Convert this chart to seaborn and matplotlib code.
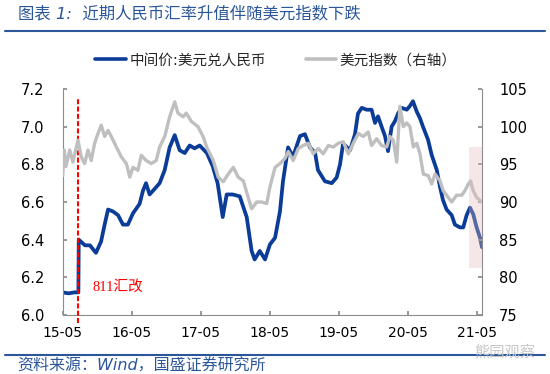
import matplotlib
matplotlib.use("Agg")
import pandas as pd
import seaborn as sns
import matplotlib.pyplot as plt
import matplotlib.dates as mdates
from matplotlib.lines import Line2D

# USD/CNY central parity (left axis)
cny_dates = [
    "2015-05-20", "2015-06-20", "2015-07-20", "2015-08-11", "2015-08-13", "2015-09-15", "2015-10-11", "2015-11-12", "2015-12-09", "2015-12-28",
    "2016-01-15", "2016-02-10", "2016-03-08", "2016-04-03", "2016-04-29", "2016-05-26", "2016-06-30", "2016-07-18", "2016-08-03", "2016-08-22",
    "2016-09-18", "2016-10-14", "2016-11-10", "2016-12-06", "2017-01-02", "2017-01-28", "2017-02-24", "2017-03-22", "2017-04-17", "2017-05-14",
    "2017-06-21", "2017-07-22", "2017-08-17", "2017-09-13", "2017-10-04", "2017-11-05", "2017-12-12", "2018-01-18", "2018-02-13", "2018-03-01",
    "2018-03-28", "2018-04-25", "2018-05-21", "2018-06-17", "2018-07-13", "2018-07-29", "2018-08-25", "2018-09-20", "2018-10-27", "2018-11-22",
    "2018-12-19", "2019-01-15", "2019-01-30", "2019-03-08", "2019-04-13", "2019-05-09", "2019-05-27", "2019-06-12", "2019-07-19", "2019-08-14",
    "2019-08-30", "2019-09-19", "2019-10-15", "2019-11-10", "2019-11-28", "2019-12-14", "2020-01-02", "2020-01-20", "2020-02-05", "2020-02-24",
    "2020-03-13", "2020-03-29", "2020-04-17", "2020-05-14", "2020-05-31", "2020-06-16", "2020-07-06", "2020-07-23", "2020-08-08", "2020-09-04",
    "2020-09-23", "2020-10-20", "2020-11-06", "2020-11-22", "2020-12-11", "2021-01-07", "2021-01-24", "2021-02-20", "2021-03-09", "2021-03-27",
    "2021-04-14", "2021-05-01", "2021-05-19", "2021-06-06", "2021-06-16",
]
cny_values = [
    6.12, 6.115, 6.12, 6.12, 6.40, 6.37, 6.37, 6.33, 6.39, 6.48,
    6.56, 6.55, 6.53, 6.48, 6.48, 6.54, 6.59, 6.66, 6.70, 6.64,
    6.67, 6.70, 6.77, 6.89, 6.955, 6.875, 6.86, 6.90, 6.885, 6.90,
    6.86, 6.79, 6.70, 6.52, 6.64, 6.64, 6.63, 6.52, 6.34, 6.295,
    6.34, 6.295, 6.375, 6.41, 6.55, 6.71, 6.89, 6.84, 6.95, 6.96,
    6.89, 6.86, 6.77, 6.71, 6.70, 6.73, 6.80, 6.91, 6.875, 6.96,
    7.07, 7.10, 7.09, 7.09, 7.02, 7.055, 7.00, 6.95, 6.87, 7.00,
    7.03, 7.07, 7.10, 7.09, 7.11, 7.135, 7.08, 7.045, 7.00, 6.93,
    6.85, 6.77, 6.68, 6.61, 6.56, 6.53, 6.48, 6.465, 6.465, 6.53,
    6.57, 6.535, 6.465, 6.41, 6.36,
]

# US dollar index (right axis)
dxy_dates = [
    "2015-05-20", "2015-05-28", "2015-06-06", "2015-06-26", "2015-07-13", "2015-08-09", "2015-08-26", "2015-09-13", "2015-10-01", "2015-10-18",
    "2015-11-05", "2015-11-23", "2015-12-10", "2015-12-28", "2016-01-15", "2016-02-01", "2016-02-28", "2016-03-25", "2016-04-21", "2016-05-09",
    "2016-05-26", "2016-06-21", "2016-07-09", "2016-08-04", "2016-08-31", "2016-09-26", "2016-10-14", "2016-11-10", "2016-12-06", "2017-01-02",
    "2017-01-19", "2017-02-15", "2017-03-04", "2017-03-31", "2017-05-05", "2017-06-01", "2017-06-20", "2017-07-25", "2017-08-20", "2017-09-16",
    "2017-10-12", "2017-11-08", "2017-12-04", "2017-12-31", "2018-01-26", "2018-02-13", "2018-03-12", "2018-04-07", "2018-05-04", "2018-05-21",
    "2018-06-17", "2018-07-13", "2018-08-09", "2018-08-26", "2018-09-21", "2018-10-18", "2018-11-13", "2018-12-10", "2019-01-05", "2019-02-01",
    "2019-02-27", "2019-03-26", "2019-04-21", "2019-05-18", "2019-06-13", "2019-07-10", "2019-08-05", "2019-09-01", "2019-09-27", "2019-10-23",
    "2019-11-10", "2019-12-07", "2020-01-02", "2020-01-29", "2020-02-15", "2020-03-04", "2020-03-22", "2020-04-08", "2020-04-26", "2020-05-14",
    "2020-05-31", "2020-06-18", "2020-07-06", "2020-07-23", "2020-08-10", "2020-09-05", "2020-09-23", "2020-10-11", "2020-11-06", "2020-11-23",
    "2020-12-20", "2021-01-07", "2021-02-02", "2021-03-01", "2021-03-18", "2021-04-05", "2021-04-17", "2021-05-01", "2021-05-19", "2021-06-15",
]
dxy_values = [
    93.5, 96.9, 94.7, 96.9, 95.3, 98.2, 96.0, 95.1, 96.9, 95.5,
    97.8, 99.1, 100.2, 98.7, 99.5, 98.7, 97.3, 96.0, 95.1, 93.3,
    94.6, 94.2, 96.2, 95.5, 95.1, 95.5, 97.3, 98.7, 101.3, 103.3,
    101.8, 101.3, 101.8, 100.7, 100.0, 98.7, 97.3, 95.5, 93.3, 92.7,
    93.7, 94.6, 93.3, 92.8, 90.6, 89.1, 90.0, 90.0, 89.8, 92.0,
    94.6, 95.1, 95.8, 96.7, 95.5, 97.1, 97.5, 97.8, 96.4, 97.1,
    96.4, 97.5, 97.3, 97.8, 98.0, 96.4, 97.8, 99.1, 98.7, 99.3,
    97.5, 98.4, 97.5, 97.3, 98.7, 98.2, 95.3, 102.7, 100.0, 100.5,
    100.0, 97.3, 97.8, 96.4, 93.7, 93.5, 92.4, 93.7, 92.8, 91.5,
    90.6, 90.0, 90.9, 90.9, 91.5, 92.4, 92.8, 91.5, 90.6, 90.0,
]

year_ticks = ["2015-05-20", "2016-05-20", "2017-05-20", "2018-05-20",
              "2019-05-20", "2020-05-20", "2021-05-20"]
left_ticks = [6.0, 6.2, 6.4, 6.6, 6.8, 7.0, 7.2]
right_ticks = [75, 80, 85, 90, 95, 100, 105]
reform_date = "2015-08-11"

BLUE = "#0B3C97"
GRAY = "#BFBFBF"
HEAD = "#2B579A"
SPINE = "#8C8C8C"

sns.set_theme(style="white")
plt.rcParams["font.family"] = ["DejaVu Sans", "Noto Sans CJK SC"]

cny = pd.DataFrame({"date": pd.to_datetime(cny_dates), "value": cny_values})
dxy = pd.DataFrame({"date": pd.to_datetime(dxy_dates), "value": dxy_values})

fig = plt.figure(figsize=(5.5, 3.74), dpi=100)
ax1 = fig.add_axes([62.7 / 550, 1 - 315 / 374, (482.3 - 62.7) / 550, (315 - 89) / 374])
ax2 = ax1.twinx()

sns.lineplot(data=cny, x="date", y="value", ax=ax1, color=BLUE, linewidth=2.7)
sns.lineplot(data=dxy, x="date", y="value", ax=ax2, color=GRAY, linewidth=2.4)

ax1.set_xlim(pd.Timestamp("2015-05-20"), pd.Timestamp("2021-06-18"))
ax1.set_ylim(6.0, 7.2)
ax2.set_ylim(75, 105)
ax1.set_xticks(pd.to_datetime(year_ticks))
ax1.xaxis.set_major_formatter(mdates.DateFormatter("%y-%m"))
ax1.set_yticks(left_ticks)
ax1.set_yticklabels([f"{v:.1f}" for v in left_ticks])
ax2.set_yticks(right_ticks)
for ax in (ax1, ax2):
    ax.set_xlabel("")
    ax.set_ylabel("")
    ax.spines["top"].set_visible(False)
    for s in ax.spines.values():
        s.set_color(SPINE)
        s.set_linewidth(0.8)
ax1.spines["right"].set_visible(False)
ax2.spines["left"].set_visible(False)
ax2.spines["bottom"].set_visible(False)

ax1.tick_params(axis="x", bottom=True, direction="in", length=3, color=SPINE,
                labelsize=10, pad=8, labelcolor="black")
ax1.tick_params(axis="y", left=True, direction="in", length=3, color=SPINE,
                labelsize=10.5, pad=13, labelcolor="black")
ax2.tick_params(axis="y", right=True, direction="in", length=3, color=SPINE,
                labelsize=10.5, pad=12, labelcolor="black")

# 811 reform marker
ax1.vlines(pd.Timestamp(reform_date), 5.96, 7.15, colors="#FF0000",
           linestyles=(0, (2.4, 1.1)), linewidth=1.5, clip_on=False, zorder=4)
ax1.text(pd.Timestamp("2015-10-26"), 6.15, "811汇改", color="#FF0000",
         fontsize=10.5, va="center", ha="left",
         family=["Liberation Serif", "Noto Sans CJK SC"])

# shaded recent window
ax2.axvspan(pd.Timestamp("2021-04-08"), pd.Timestamp("2021-06-18"), ymin=0.21, ymax=0.745,
            color="#E5BDBD", alpha=0.35, lw=0, zorder=5)

handles = [Line2D([], [], color=BLUE, lw=2.6), Line2D([], [], color=GRAY, lw=2.6)]
fig.legend(handles, ["中间价:美元兑人民币", "美元指数（右轴）"], loc="center",
           bbox_to_anchor=(0.502, 1 - 60 / 374), ncol=2, frameon=False,
           fontsize=10.5, handlelength=2.1, handletextpad=0.25, columnspacing=2.7)

fig.text(18 / 550, 1 - 14 / 374, "图表 1:  近期人民币汇率升值伴随美元指数下跌",
         fontsize=11.8, color=HEAD, style="italic", ha="left", va="center")
fig.add_artist(Line2D([5 / 550, 545 / 550], [1 - 31 / 374] * 2, color=HEAD, lw=1.5))
fig.add_artist(Line2D([5 / 550, 545 / 550], [1 - 355 / 374] * 2, color=HEAD, lw=1.5))
fig.text(17 / 550, 1 - 366 / 374, "资料来源：Wind，国盛证券研究所",
         fontsize=11.5, color=HEAD, style="italic", ha="left", va="center")
fig.text(505 / 550, 1 - 352 / 374, "熊园观察", fontsize=11, color="#C8C8C8",
         ha="center", va="center")

fig.savefig("out.png", dpi=100)
